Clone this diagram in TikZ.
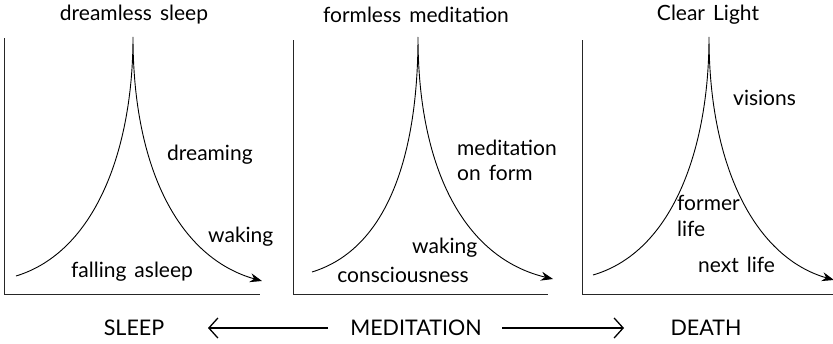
\documentclass[tikz,border=0pt]{standalone}
\usepackage{fontspec}
\setmainfont[WordSpace=1.5]{Lato}
\usetikzlibrary{arrows.meta}
\begin{document}
\begin{tikzpicture}[x=1pt,y=-1pt,
  axis/.style={line width=0.9pt,draw=black!85},
  curve/.style={line width=0.9pt,-{Stealth[length=12pt,width=9pt]}},
  lbl/.style={inner sep=0pt,font=\fontsize{21}{24}\selectfont},
  capsty/.style={inner sep=0pt,font=\fontsize{21.5}{24}\selectfont},
  lnk/.style={line width=1.3pt,-{Straight Barb[length=9pt,width=20pt,line width=1.3pt]}}]
\useasboundingbox (0,0) rectangle (833,343);
% panel 1
\coordinate (o1) at (4,294);
\coordinate (t1) at (4,38);
\coordinate (r1) at (260,294);
\draw[axis] (t1) -- (o1) -- (r1);
\coordinate (s1) at (16,276);
\coordinate (c1) at (133,37);
\coordinate (e1) at (262,281);
\draw[curve] (s1) .. controls (95,252) and (133,150) .. (c1) .. controls (133,170) and (180,258) .. (e1);
\node[lbl] (h1) at (134,15) {dreamless sleep};
\node[lbl,anchor=west] (d1) at (167,155) {dreaming};
\node[lbl,anchor=west] (w1) at (208,237) {waking};
\node[lbl] (f1) at (132,272) {falling asleep};
% panel 2
\coordinate (o2) at (293,294);
\coordinate (t2) at (293,40);
\coordinate (r2) at (548,294);
\draw[axis] (t2) -- (o2) -- (r2);
\coordinate (s2) at (312,272);
\coordinate (c2) at (418,37);
\coordinate (e2) at (553,279);
\draw[curve] (s2) .. controls (390,248) and (418,150) .. (c2) .. controls (418,170) and (465,258) .. (e2);
\node[lbl] (h2) at (416,15) {formless meditation};
\node[lbl,anchor=west] (m2) at (457,148) {meditation};
\node[lbl,anchor=west] (m2b) at (457,173) {on form};
\node[lbl,anchor=west] (w2) at (412,248) {waking};
\node[lbl] (k2) at (403,275) {consciousness};
% panel 3
\coordinate (o3) at (582,294);
\coordinate (t3) at (582,40);
\coordinate (r3) at (833,294);
\draw[axis] (t3) -- (o3) -- (r3);
\coordinate (s3) at (593,275);
\coordinate (c3) at (709,37);
\coordinate (e3) at (834,280);
\draw[curve] (s3) .. controls (672,252) and (709,150) .. (c3) .. controls (709,170) and (757,258) .. (e3);
\node[lbl] (h3) at (708,15) {Clear Light};
\node[lbl,anchor=west] (v3) at (733,98) {visions};
\node[lbl,anchor=west] (f3) at (677,203) {former};
\node[lbl,anchor=west] (l3) at (677,229) {life};
\node[lbl,anchor=west] (n3) at (698,265) {next life};
% bottom
\node[capsty] (sleep) at (134,328) {SLEEP};
\node[capsty] (med) at (416,328) {MEDITATION};
\node[capsty] (death) at (706,328) {DEATH};
\coordinate (m1) at (328,328);
\coordinate (a1) at (208,328);
\coordinate (m2) at (502,328);
\coordinate (a2) at (624,328);
\draw[lnk] (m1) -- (a1);
\draw[lnk] (m2) -- (a2);
\end{tikzpicture}
\end{document}
